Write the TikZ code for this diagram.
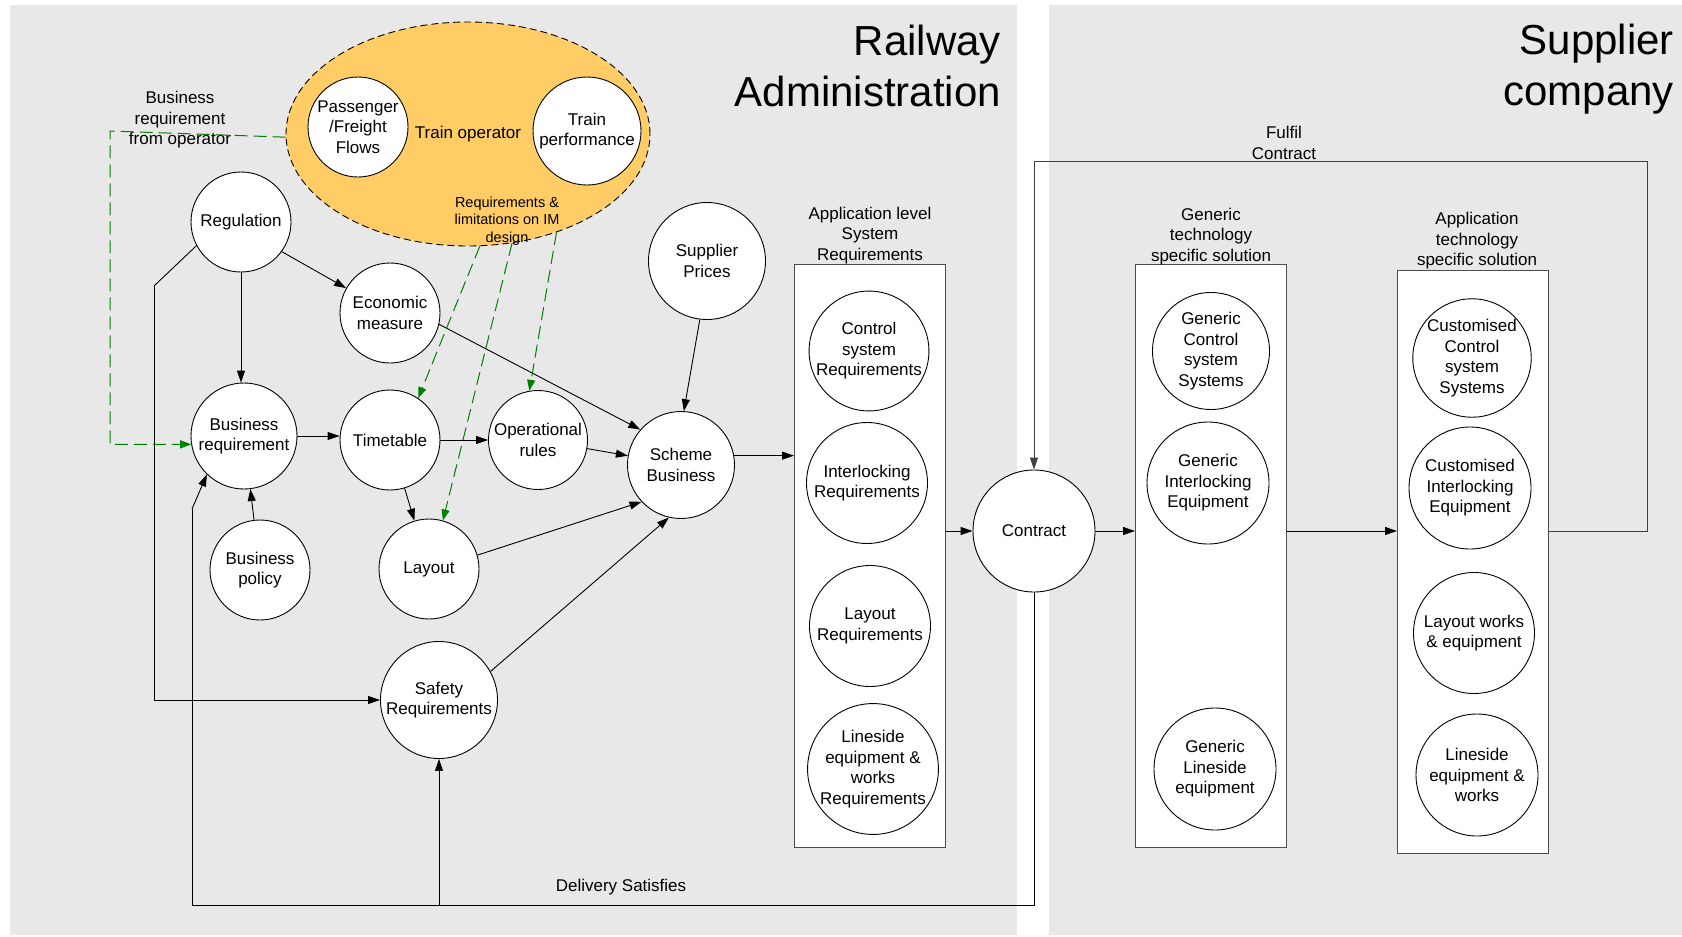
\documentclass[tikz,border=0pt]{standalone}
\usepackage{fontspec}
\setmainfont{Liberation Sans}
\usetikzlibrary{shapes.geometric,arrows.meta}
\definecolor{panelgray}{RGB}{232,232,232}
\definecolor{opfill}{RGB}{255,204,102}
\definecolor{reqgreen}{RGB}{0,128,0}
\newcommand\lblfont{\fontsize{17}{20.5}\selectfont}
\newcommand\notefont{\fontsize{14.5}{17.5}\selectfont}
\newcommand\titlefont{\fontsize{42}{51}\selectfont}
\begin{document}
\begin{tikzpicture}[x=1pt,y=-1pt,
  every node/.style={font=\lblfont, align=center},
  bubble/.style={circle, draw=black, fill=white, line width=0.9pt, inner sep=0pt, minimum size=#1},
  column/.style={draw=black!70, fill=white, line width=1pt, anchor=north west,
                 minimum width=151, minimum height=#1, inner sep=0pt},
  flow/.style={draw=black, line width=0.9pt, -{Triangle[length=12pt,width=8pt]}},
  link/.style={draw=black, line width=0.9pt},
  ireq/.style={draw=reqgreen, line width=1pt, dash pattern=on 13pt off 6pt,
               -{Triangle[length=11pt,width=8pt,fill=reqgreen]}},
]
\useasboundingbox (0,0) rectangle (1682,937);
\fill[white] (0,0) rectangle (1682,937);

% the two organisations
\fill[panelgray] (10,5) rectangle (1017,935);
\fill[panelgray] (1049,5) rectangle (1682,935);
\node[font=\titlefont, align=right, anchor=north east, inner sep=0pt] (railtitle) at (1001,25) {Railway\\Administration};
\node[font=\titlefont, align=right, anchor=north east, inner sep=0pt] (suptitle) at (1674,24) {Supplier\\company};

% train operator group
\node[ellipse, draw=black, fill=opfill, line width=0.9pt, dash pattern=on 7pt off 4pt,
      minimum width=364, minimum height=224, inner sep=0pt] (trainop) at (468,134) {Train operator};
\node[bubble=100] (pass) at (358,127) {Passenger\\/Freight\\Flows};
\node[bubble=108] (perf) at (587,131) {Train\\performance};
\node[font=\notefont] (imnote) at (507,221) {Requirements \&\\limitations on IM\\design};
\node (opnote) at (180,120) {Business\\requirement\\from operator};

% railway administration
\node[bubble=100] (reg) at (241,222) {Regulation};
\node[bubble=100] (econ) at (390,313) {Economic\\measure};
\node[bubble=106] (busreq) at (244,436) {Business\\requirement};
\node[bubble=100] (tt) at (390,440) {Timetable};
\node[bubble=99] (op) at (538,440) {Operational\\rules};
\node[bubble=100] (bpol) at (260,570) {Business\\policy};
\node[bubble=100] (lay) at (429,569) {Layout};
\node[bubble=117] (saf) at (439,700) {Safety\\Requirements};
\node[bubble=107] (scheme) at (681,465) {Scheme\\Business};
\node[bubble=117] (sup) at (707,261) {Supplier\\Prices};

% application level system requirements
\node[column=583] (appbox) at (794,264) {};
\node (applbl) at (870,235.5) {Application level\\System\\Requirements};
\node[bubble=117] (csreq) at (869,351) {Control\\system\\Requirements};
\node[bubble=121] (ilreq) at (867,483) {Interlocking\\Requirements};
\node[bubble=121] (layreq) at (870,626) {Layout\\Requirements};
\node[bubble=121] (linreq) at (873,769) {Lineside\\equipment \&\\works\\Requirements};

\node[bubble=122] (contract) at (1034,531) {Contract};

% generic solution
\node[column=583] (genbox) at (1135,264) {};
\node (genlbl) at (1211,236.5) {Generic\\technology\\specific solution};
\node[bubble=117] (gcs) at (1211,351) {Generic\\Control\\system\\Systems};
\node[bubble=122] (gil) at (1208,483) {Generic\\Interlocking\\Equipment};
\node[bubble=122] (gline) at (1215,769) {Generic\\Lineside\\equipment};

% application solution
\node[column=583] (apptech) at (1397,270) {};
\node (apptlbl) at (1477,241) {Application\\technology\\specific solution};
\node[bubble=117] (ccs) at (1472,358) {Customised\\Control\\system\\Systems};
\node[bubble=122] (cil) at (1470,488) {Customised\\Interlocking\\Equipment};
\node[bubble=121] (lwe) at (1474,633) {Layout works\\\& equipment};
\node[bubble=122] (lew) at (1477,775) {Lineside\\equipment \&\\works};

\node (fulfil) at (1284,143) {Fulfil\\Contract};
\node (delivery) at (621,887) {Delivery Satisfies};

% helper corners of the routed connectors
\coordinate (regbend) at (154,286);
\coordinate (opbend) at (110,131);
\coordinate (fulfilcorner) at (1647,161);
\coordinate (delcorner) at (192,905);
\coordinate (delbend) at (192,509);

% black connectors
\draw[link] (reg.208) -- (regbend);
\draw[flow] (regbend) |- (saf.west);
\draw[flow] (reg.-36) -- (econ);
\draw[flow] (reg.south) -- (reg.south |- busreq.north);
\draw[flow] (bpol) -- (busreq);
\draw[flow] (busreq.east) -- (tt.west |- busreq.east);
\draw[flow] (tt) -- (op);
\draw[flow] (tt) -- (lay);
\draw[flow] (op) -- (scheme);
\draw[flow] (econ.-13) -- (scheme.139);
\draw[flow] (lay.16) -- (scheme.223);
\draw[flow] (saf.29) -- (scheme.257);
\draw[flow] (sup.263) -- (scheme.87);
\draw[flow] (scheme.10.7) -- (scheme.10.7 -| appbox.west);
\draw[flow] (contract.west -| appbox.east) -- (contract.west);
\draw[flow] (contract.east) -- (contract.east -| genbox.west);
\draw[flow] (genbox.east |- contract.east) -- (apptech.west |- contract.east);
\draw[flow, draw=black!75] (apptech.east |- contract.east) -| (fulfilcorner) -| (contract.north);
\draw[link] (contract.south) |- (delcorner) -- (delbend);
\draw[flow] (delbend) -- (busreq.226);
\draw[flow] (saf.south |- delcorner) -- (saf.south);

% requirements from the train operator
\draw[ireq] (trainop.181) -- (opbend) |- (busreq.189);
\draw[ireq] (trainop.-84) -- (tt.56);
\draw[ireq] (trainop.-68.3) -- (lay.74);
\draw[ireq] (trainop.-48.7) -- (op.100);
\end{tikzpicture}
\end{document}
